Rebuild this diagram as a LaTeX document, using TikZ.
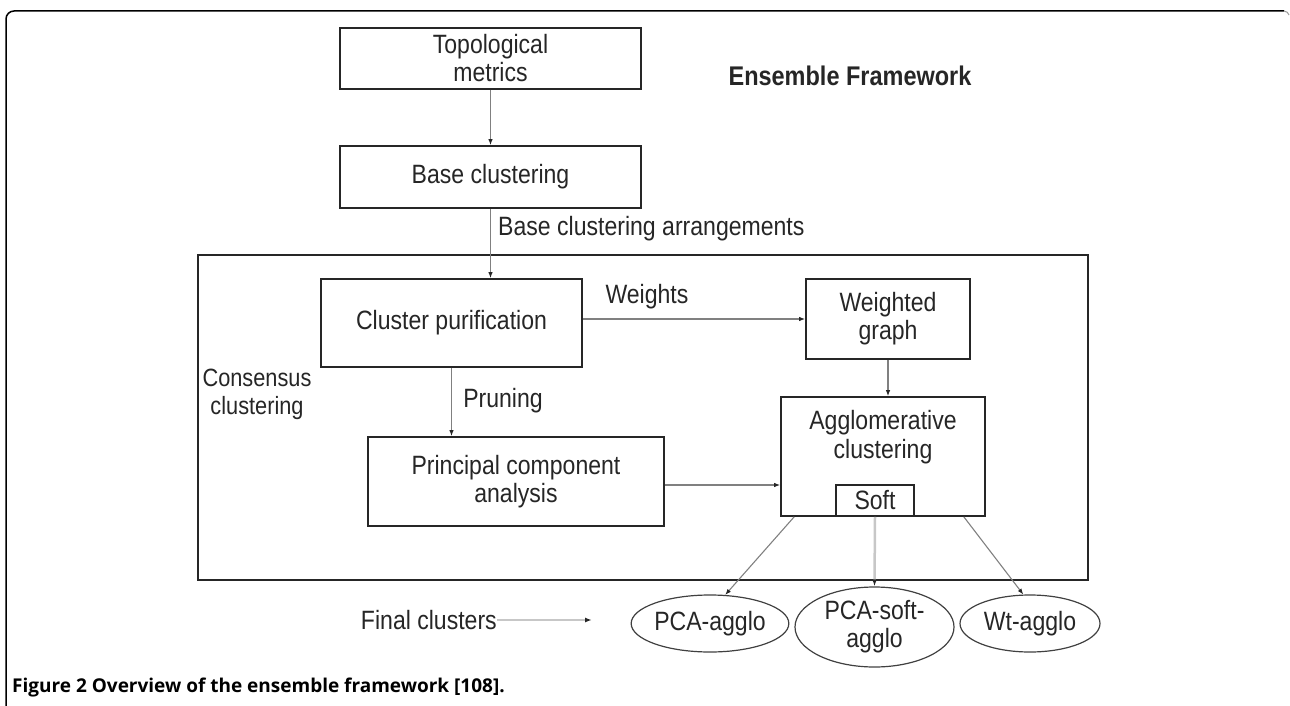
\documentclass[tikz,border=0pt]{standalone}
\usepackage{fontspec}
\setmainfont{Liberation Sans}[FakeStretch=0.87]
\newfontfamily\capfont{Open Sans}
\usetikzlibrary{arrows.meta,shapes.geometric}
\begin{document}
\begin{tikzpicture}[x=1pt,y=-1pt,
  box/.style={draw=black!85,line width=1.7pt,rectangle,inner sep=0pt,align=center,font=\fontsize{26.5}{28}\selectfont,text=black!85},
  frame/.style={draw=black!85,line width=2pt,rectangle,inner sep=0pt},
  oval/.style={draw=black!75,line width=1.2pt,ellipse,inner sep=0pt,align=center,font=\fontsize{26.5}{28}\selectfont,text=black!85},
  conn/.style={draw=black!50,line width=1.1pt,-{Latex[length=6pt,width=4.5pt,color=black!85]}},
  lconn/.style={draw=black!22,line width=2.5pt,-{Latex[length=7pt,width=5pt,color=black!85]}},
  lbl/.style={font=\fontsize{26.5}{29}\selectfont,text=black!85,inner sep=0pt,align=center}
]
\useasboundingbox (0,0) rectangle (1290,706);
% outer frame
\draw[black,line width=1.5pt,rounded corners=8pt] (6,706) -- (6,11) -- (1284,11);
\draw[black!40,line width=1pt] (1284,11) .. controls (1287,11) and (1288,13) .. (1289,15);

% boxes
\node[box,minimum width=301pt,minimum height=61pt] (topo) at (490.5,58.5) {Topological\\metrics};
\node[box,minimum width=301pt,minimum height=62pt] (base) at (490.5,177) {Base clustering};
\node[frame,minimum width=890pt,minimum height=325pt] (cons) at (643,417.5) {};
\node[box,minimum width=261pt,minimum height=88pt] (purif) at (451.5,323) {Cluster purification};
\node[box,minimum width=164pt,minimum height=80pt] (wgraph) at (888,319) {Weighted\\graph};
\node[box,minimum width=296pt,minimum height=89pt] (pca) at (516,481.5) {Principal component\\analysis};
\node[box,minimum width=204pt,minimum height=119pt] (agglo) at (883,456.5) {};
\node[lbl] (aggtxt) at (883,437) {Agglomerative\\clustering};
\node[box,minimum width=78pt,minimum height=31pt] (soft) at (875,500.5) {Soft};

% ellipses
\node[oval,minimum width=144pt,minimum height=57pt] (pa) at (710,623.5) {PCA-agglo};
\node[oval,minimum width=159pt,minimum height=80pt] (psa) at (874.5,627) {PCA-soft-\\agglo};
\node[oval,minimum width=140pt,minimum height=57pt] (wa) at (1030,623.5) {Wt-agglo};

% labels
\node[lbl,font=\fontsize{27}{29}\selectfont\bfseries] (ens) at (850,76) {Ensemble Framework};
\node[lbl,anchor=west] (bca) at (498,229) {Base clustering arrangements};
\node[lbl] (wts) at (647,297) {Weights};
\node[lbl] (prn) at (503,401) {Pruning};
\node[lbl,font=\fontsize{25}{28}\selectfont] (cc) at (257,394) {Consensus\\clustering};
\node[lbl,anchor=east] (fc) at (497,620) {Final clusters};
\coordinate (fcend) at (592,620);

% connectors
\draw[conn] (topo.south) -- (base.north);
\draw[conn] (base.south) -- (base.south |- purif.north);
\draw[conn] (purif.east |- wgraph.west) -- (wgraph.west);
\draw[conn] (purif.south) -- (purif.south |- pca.north);
\draw[conn] (wgraph.south) -- (wgraph.south |- agglo.north);
\draw[conn] ([yshift=-3.5pt]pca.east) -- ([yshift=-3.5pt]pca.east -| agglo.west);
\draw[conn] ([xshift=14pt]agglo.south west) -- (pa.62);
\draw[lconn] (soft.south) -- (psa.north);
\draw[conn] ([xshift=-22pt]agglo.south east) -- (wa.103);
\draw[lconn] (fc.east) -- (fcend);

% caption
\node[anchor=base west,inner sep=0pt,font=\capfont\bfseries\fontsize{19}{22}\selectfont,text=black] (cap) at (12,692) {Figure 2 Overview of the ensemble framework [108].};
\end{tikzpicture}
\end{document}
